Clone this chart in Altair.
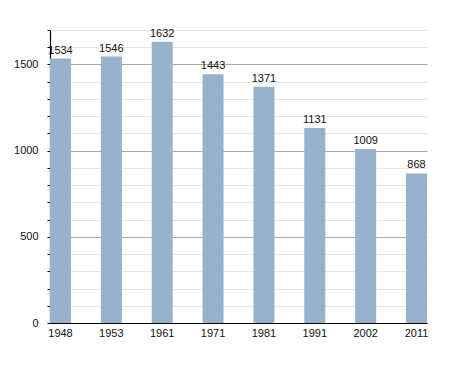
import altair as alt
import pandas as pd

years = ["1948", "1953", "1961", "1971", "1981", "1991", "2002", "2011"]
population = [1534, 1546, 1632, 1443, 1371, 1131, 1009, 868]

df = pd.DataFrame({"year": years, "pop": population})

FONT = "Liberation Sans"

x = alt.X("year:N", sort=years, title=None,
          scale=alt.Scale(paddingInner=0.587, paddingOuter=0),
          axis=alt.Axis(labelAngle=0, ticks=False, domainColor="#000", domainWidth=1.2,
                        labelFont=FONT, labelFontSize=11, labelColor="#111", labelPadding=4))
y = alt.Y("pop:Q", title=None,
          scale=alt.Scale(domain=[0, 1700], nice=False),
          axis=alt.Axis(values=list(range(0, 1701, 100)), format="d",
                        labelExpr="datum.value % 500 === 0 ? datum.label : ''",
                        tickSize=3, tickColor="#000", domainColor="#000", domainWidth=1.2,
                        labelFont=FONT, labelFontSize=11, labelColor="#111", labelPadding=9,
                        grid=True,
                        gridColor={"condition": {"test": "datum.value % 500 === 0", "value": "#aaaaaa"},
                                   "value": "#e6e6e6"}))

base = alt.Chart(df).encode(x=x, y=y)
bars = base.mark_bar(color="#98b1cd")
labels = base.mark_text(baseline="bottom", dy=-3, font=FONT, fontSize=11, color="#111").encode(
    text="pop:Q")

chart = (bars + labels).properties(
    width=377, height=293,
    autosize=alt.AutoSizeParams(type="none"),
    padding={"left": 42, "top": 22, "right": 10, "bottom": 30},
).configure_view(stroke=None)

chart.save("out.html", embed_options={"renderer": "svg", "actions": False})
